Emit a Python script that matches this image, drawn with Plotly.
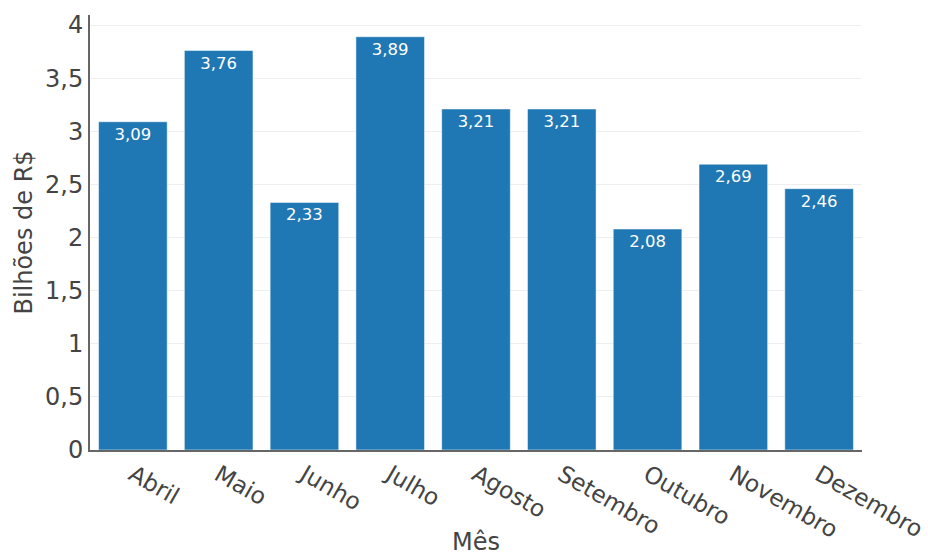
import plotly.graph_objects as go

meses = ["Abril", "Maio", "Junho", "Julho", "Agosto", "Setembro", "Outubro", "Novembro", "Dezembro"]
valores = [3.09, 3.76, 2.33, 3.89, 3.21, 3.21, 2.08, 2.69, 2.46]

fig = go.Figure(
    go.Bar(
        x=meses,
        y=valores,
        marker=dict(color="#1f77b4", line=dict(color="rgba(255,255,255,0.5)", width=1)),
        texttemplate="%{y:.2f}",
        textposition="inside",
        insidetextanchor="end",
        textfont=dict(color="white", size=16.5),
    )
)

fig.update_layout(
    width=928,
    height=556,
    margin=dict(l=90, r=66, t=15, b=106, autoexpand=False),
    paper_bgcolor="white",
    plot_bgcolor="white",
    separators=",.",
    font=dict(family="DejaVu Sans, Verdana, sans-serif", color="#444"),
    showlegend=False,
)
fig.update_xaxes(
    title=dict(text="Mês", font=dict(size=24), standoff=13),
    tickangle=30,
    tickfont=dict(size=23.3),
    showline=True,
    linecolor="#666",
    linewidth=2,
    ticks="",
    automargin=False,
)
fig.update_yaxes(
    title=dict(text="Bilhões de R$", font=dict(size=24), standoff=6),
    tickfont=dict(size=24),
    showline=True,
    linecolor="#666",
    linewidth=2,
    showgrid=True,
    gridcolor="#eee",
    dtick=0.5,
    zeroline=False,
    ticks="",
    automargin=False,
)

fig.write_html("out.html")
